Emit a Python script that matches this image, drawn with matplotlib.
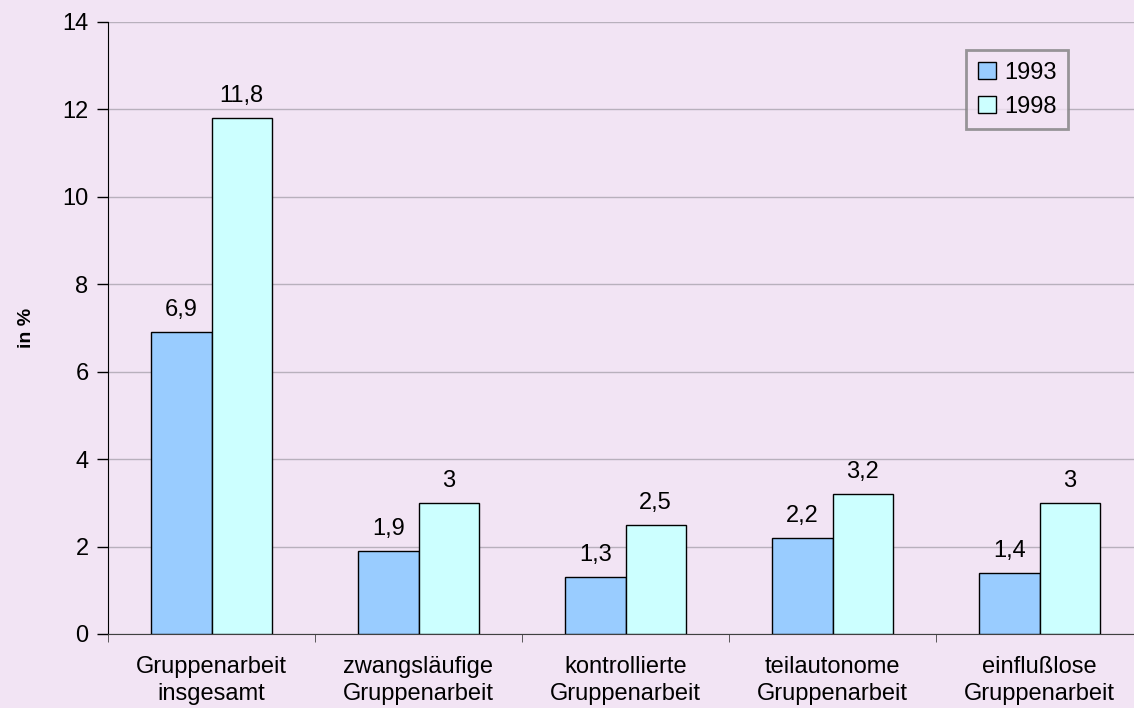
import matplotlib.pyplot as plt
import numpy as np

plt.rcParams['font.family'] = ['Liberation Sans', 'DejaVu Sans']

kategorien = ["Gruppenarbeit\ninsgesamt", "zwangsläufige\nGruppenarbeit",
              "kontrollierte\nGruppenarbeit", "teilautonome\nGruppenarbeit",
              "einflußlose\nGruppenarbeit"]
werte_1993 = [6.9, 1.9, 1.3, 2.2, 1.4]
werte_1998 = [11.8, 3.0, 2.5, 3.2, 3.0]
jahre = ["1993", "1998"]

bg = "#F2E4F4"
fs = 17
fig = plt.figure(figsize=(11.34, 7.08), dpi=100, facecolor=bg)
ax = fig.add_axes([108/1134, 74/708, 1035/1134, 612/708])
ax.set_facecolor(bg)

x = np.arange(len(kategorien))
b = 0.29
r1 = ax.bar(x - b/2, werte_1993, b, color="#99CCFF", edgecolor="black", lw=1, label=jahre[0], zorder=3)
r2 = ax.bar(x + b/2, werte_1998, b, color="#CCFFFF", edgecolor="black", lw=1, label=jahre[1], zorder=3)

def fmt(v):
    s = ("%g" % v).replace(".", ",")
    return s

for bars, vals in ((r1, werte_1993), (r2, werte_1998)):
    for rect, v in zip(bars, vals):
        ax.text(rect.get_x() + rect.get_width()/2, v + 0.25, fmt(v),
                ha="center", va="bottom", fontsize=fs)

ax.set_xlim(-0.5, len(kategorien) - 0.5)
ax.set_ylim(0, 14)
ax.set_yticks(range(0, 15, 2))
ax.tick_params(axis="y", labelsize=fs, length=8, width=1, pad=6)
ax.yaxis.grid(True, color="#B8B0BC", lw=1, zorder=0)

ax.set_xticks(x)
ax.set_xticklabels(kategorien, fontsize=fs, linespacing=1.3)
ax.tick_params(axis="x", length=0, pad=16)
ax.set_xticks(np.arange(-0.5, len(kategorien), 1), minor=True)
ax.tick_params(axis="x", which="minor", length=6, color="#404040")

ax.spines["top"].set_visible(False)
ax.spines["right"].set_visible(False)
ax.spines["left"].set_color("black")
ax.spines["bottom"].set_color("#404040")

ax.set_ylabel("in %", fontsize=14, fontweight="bold", labelpad=20)

leg = ax.legend(loc="upper left", bbox_to_anchor=(858/1035, 1 - 28/612),
                fontsize=fs, frameon=True, fancybox=False,
                handlelength=0.75, handleheight=0.75, handletextpad=0.35,
                borderpad=0.5, labelspacing=0.5, borderaxespad=0)
leg.get_frame().set_edgecolor("#808080")
leg.get_frame().set_linewidth(2)
leg.get_frame().set_facecolor(bg)

fig.savefig("out.png", dpi=100, facecolor=bg)
